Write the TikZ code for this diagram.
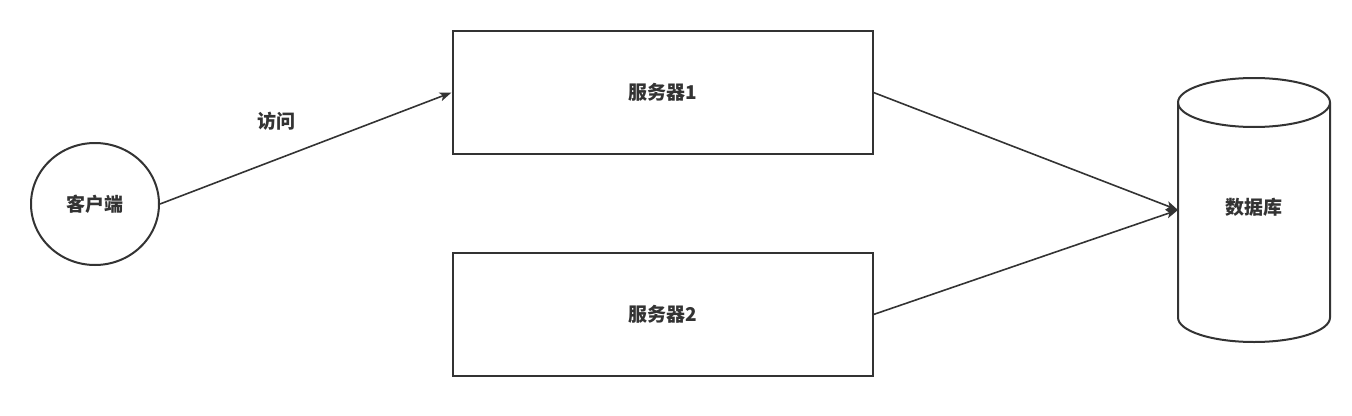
\documentclass[tikz,border=0pt]{standalone}
\usepackage{fontspec}
\setmainfont{Noto Sans CJK SC}
\usetikzlibrary{arrows.meta,shapes.geometric}
\definecolor{ink}{HTML}{333333}
\tikzset{
  lbl/.style={font=\fontsize{19}{22}\selectfont\bfseries, text=ink},
  boxstyle/.style={draw=ink, line width=2pt, minimum width=420pt, minimum height=123pt, inner sep=0pt, lbl},
  conn/.style={draw=ink, line width=1.6pt, -{Stealth[length=12pt,width=9pt,inset=3pt]}},
}
\begin{document}
\begin{tikzpicture}[x=1pt,y=-1pt]
\useasboundingbox (0,0) rectangle (1352,415);
% client
\node[draw=ink, line width=2pt, ellipse, minimum width=128pt, minimum height=122pt, inner sep=0pt, lbl] (client) at (95,204) {客户端};
% servers
\node[boxstyle] (s1) at (662.5,92.5) {服务器1};
\node[boxstyle] (s2) at (662.5,314.5) {服务器2};
% database cylinder
\coordinate (dbw) at (1178,210);
\draw[ink, line width=2pt] (1178,102.5) -- (1178,317.5) arc[start angle=180, end angle=360, x radius=76pt, y radius=24.5pt] -- (1330,102.5);
\draw[ink, line width=2pt] (1254,102.5) ellipse[x radius=76pt, y radius=24.5pt];
\node[lbl] (db) at (1254,207) {数据库};
% connectors
\draw[conn] (client.east) -- (s1.west) node[pos=0.40, above=25pt, lbl] (lab) {访问};
\draw[conn] (s1.east) -- (dbw);
\draw[conn] (s2.east) -- (dbw);
\end{tikzpicture}
\end{document}
